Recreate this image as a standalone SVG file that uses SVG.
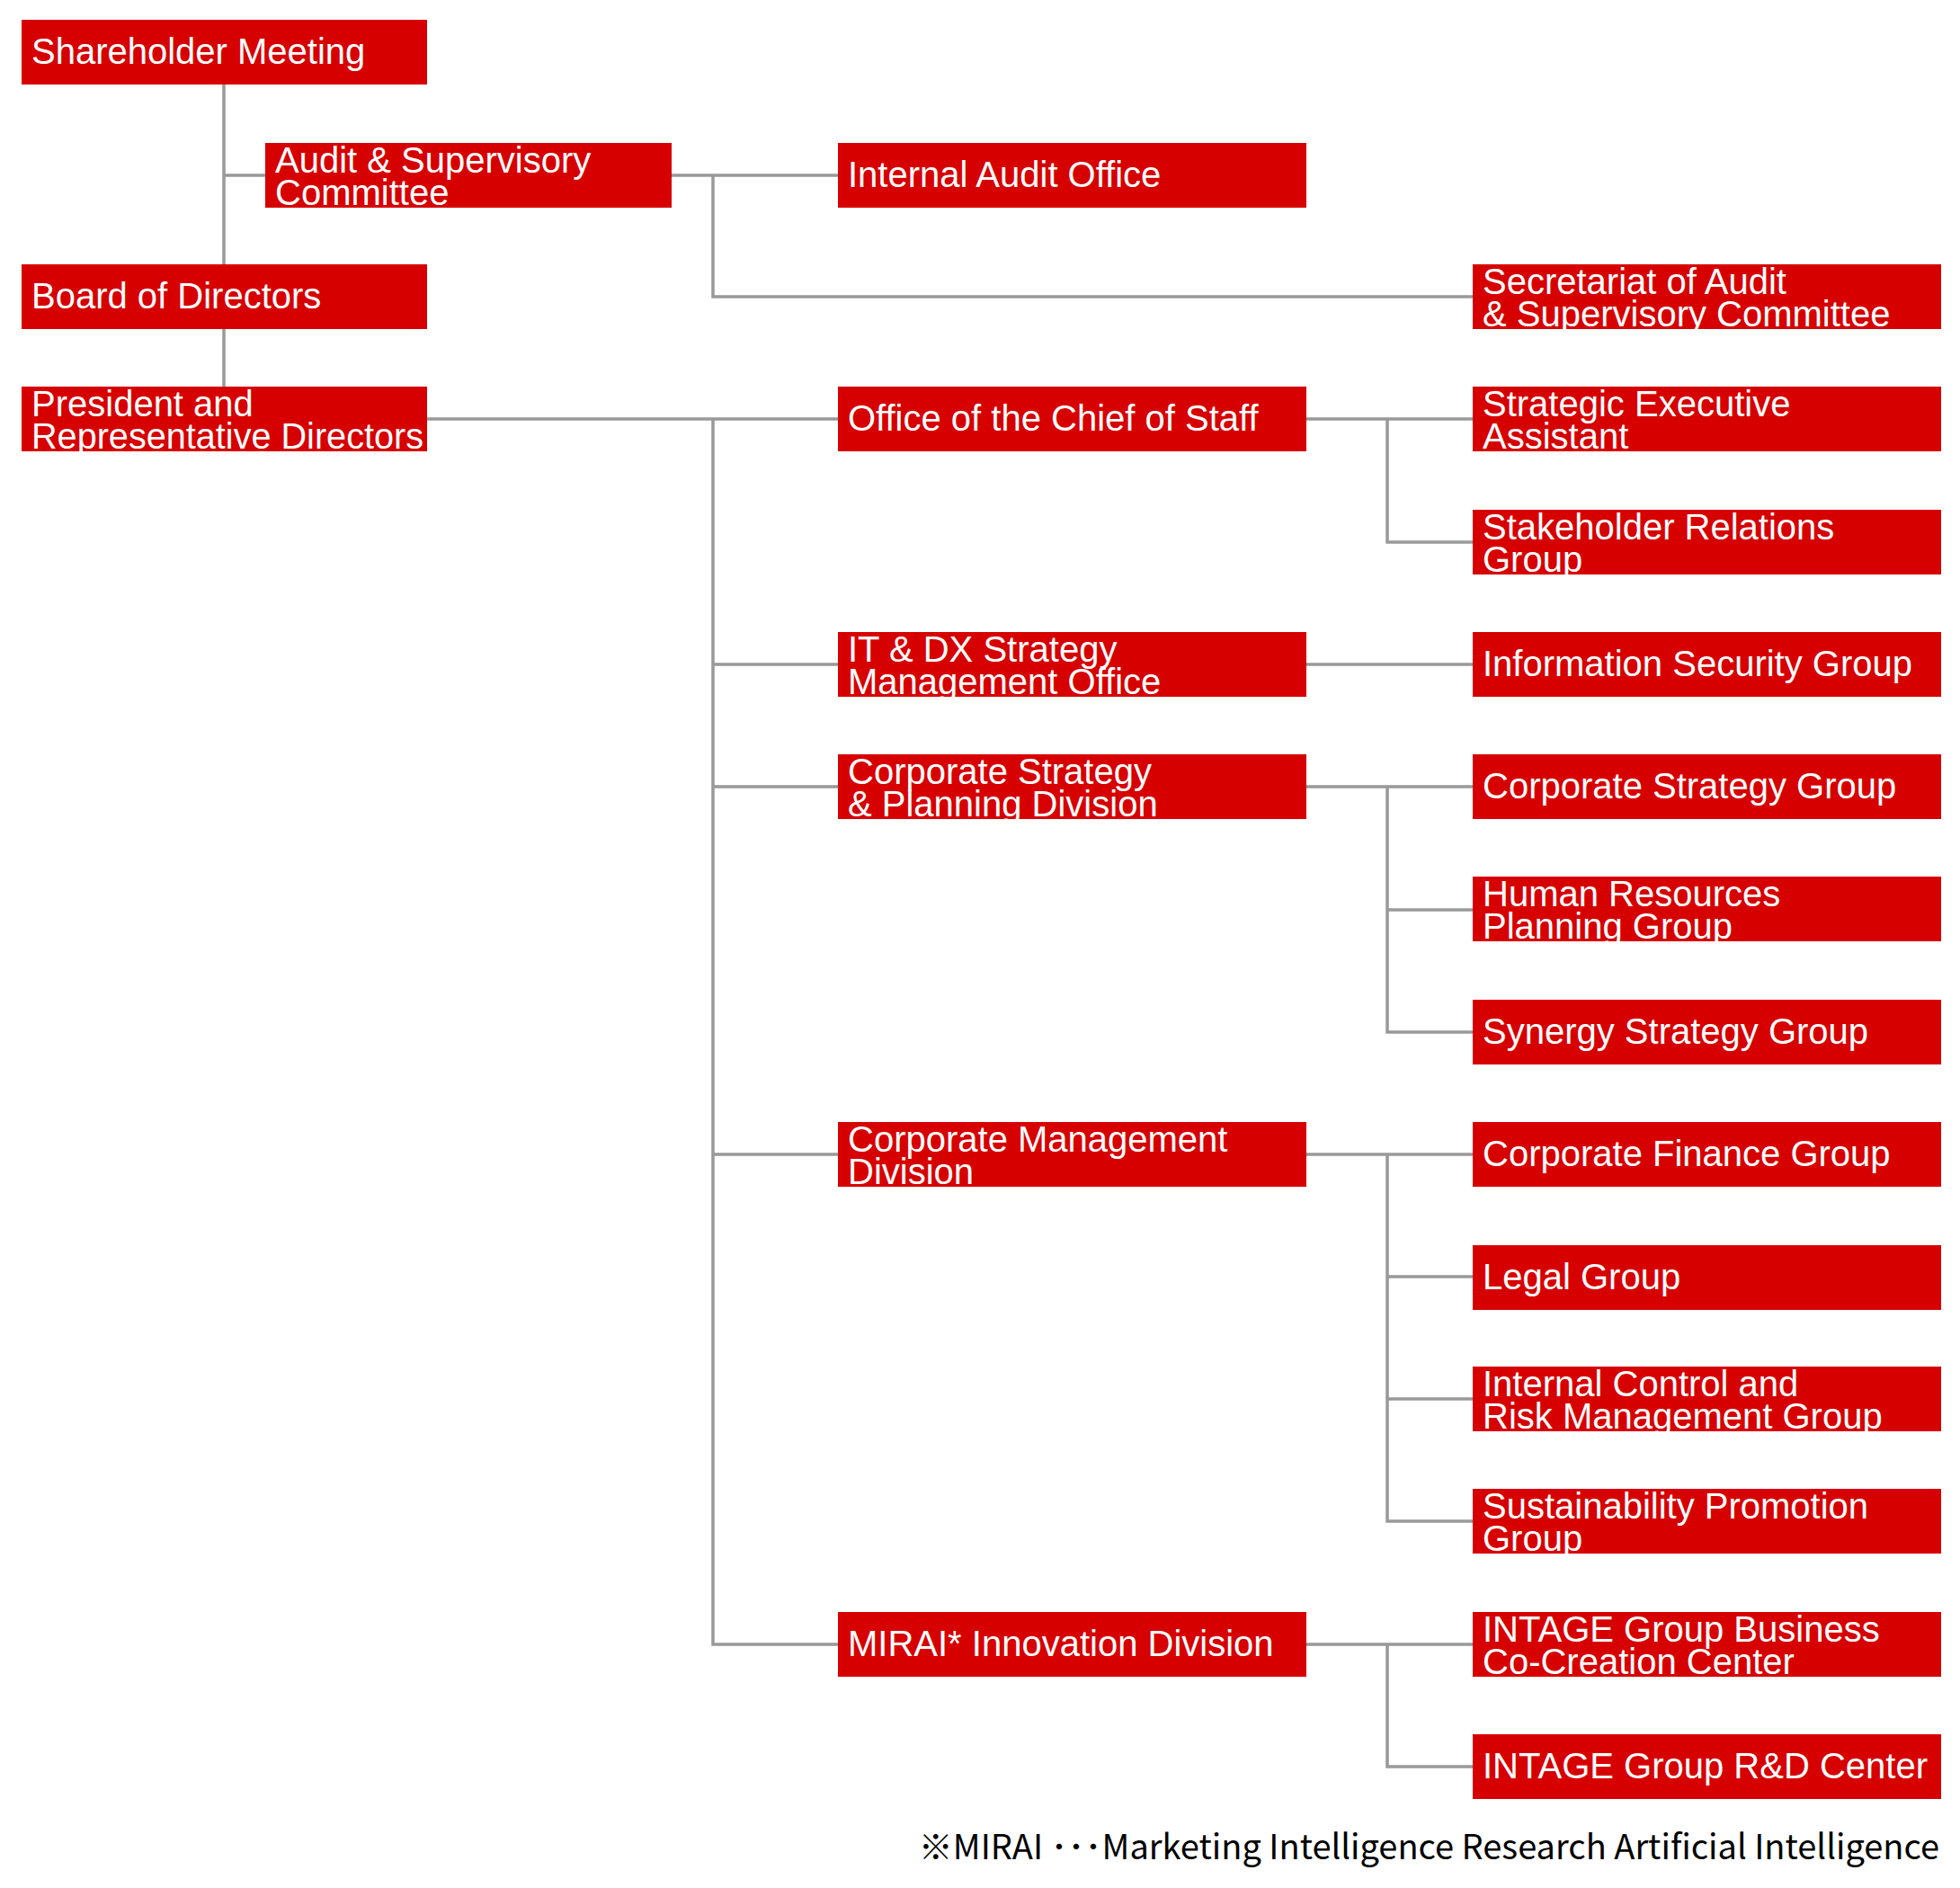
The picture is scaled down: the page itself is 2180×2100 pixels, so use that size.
<svg xmlns="http://www.w3.org/2000/svg" width="2180" height="2100" viewBox="0 0 2180 2100">
<style>
.b{fill:#d70000}
.t{fill:#fff;font-family:"Liberation Sans",Arial,sans-serif;font-size:40px}
.c{stroke:#999;stroke-width:3.5;fill:none}
.f{font-family:"Noto Sans CJK JP",sans-serif;font-size:38px;fill:#000}
</style>
<rect width="2180" height="2100" fill="#fff"/>
<g id="connectors" class="c">
<path d="M249 94V294M249 195H295M249 366V430"/>
<path d="M747 195H932M793 195V330H1638"/>
<path d="M475 466H932M793 466V1829H932M793 739H932M793 875H932M793 1284H932"/>
<path d="M1453 466H1638M1543 466V603H1638"/>
<path d="M1453 739H1638"/>
<path d="M1453 875H1638M1543 875V1148H1638M1543 1012H1638"/>
<path d="M1453 1284H1638M1543 1284V1692H1638M1543 1420H1638M1543 1556H1638"/>
<path d="M1453 1829H1638M1543 1829V1965H1638"/>
</g>
<g id="n1"><rect class="b" x="24" y="22" width="451" height="72"/><text class="t" x="35" y="71">Shareholder Meeting</text></g>
<g id="n2"><rect class="b" x="295" y="159" width="452" height="72"/><text class="t" x="306" y="192">Audit &amp; Supervisory</text><text class="t" x="306" y="228">Committee</text></g>
<g id="n3"><rect class="b" x="24" y="294" width="451" height="72"/><text class="t" x="35" y="343">Board of Directors</text></g>
<g id="n4"><rect class="b" x="24" y="430" width="451" height="72"/><text class="t" x="35" y="463">President and</text><text class="t" x="35" y="499" textLength="436" lengthAdjust="spacingAndGlyphs">Representative Directors</text></g>
<g id="n5"><rect class="b" x="932" y="159" width="521" height="72"/><text class="t" x="943" y="208">Internal Audit Office</text></g>
<g id="n6"><rect class="b" x="1638" y="294" width="521" height="72"/><text class="t" x="1649" y="327">Secretariat of Audit</text><text class="t" x="1649" y="363">&amp; Supervisory Committee</text></g>
<g id="n7"><rect class="b" x="932" y="430" width="521" height="72"/><text class="t" x="943" y="479">Office of the Chief of Staff</text></g>
<g id="n8"><rect class="b" x="1638" y="430" width="521" height="72"/><text class="t" x="1649" y="463">Strategic Executive</text><text class="t" x="1649" y="499">Assistant</text></g>
<g id="n9"><rect class="b" x="1638" y="567" width="521" height="72"/><text class="t" x="1649" y="600">Stakeholder Relations</text><text class="t" x="1649" y="636">Group</text></g>
<g id="n10"><rect class="b" x="932" y="703" width="521" height="72"/><text class="t" x="943" y="736">IT &amp; DX Strategy</text><text class="t" x="943" y="772">Management Office</text></g>
<g id="n11"><rect class="b" x="1638" y="703" width="521" height="72"/><text class="t" x="1649" y="752">Information Security Group</text></g>
<g id="n12"><rect class="b" x="932" y="839" width="521" height="72"/><text class="t" x="943" y="872">Corporate Strategy</text><text class="t" x="943" y="908">&amp; Planning Division</text></g>
<g id="n13"><rect class="b" x="1638" y="839" width="521" height="72"/><text class="t" x="1649" y="888">Corporate Strategy Group</text></g>
<g id="n14"><rect class="b" x="1638" y="975" width="521" height="72"/><text class="t" x="1649" y="1008">Human Resources</text><text class="t" x="1649" y="1044">Planning Group</text></g>
<g id="n15"><rect class="b" x="1638" y="1112" width="521" height="72"/><text class="t" x="1649" y="1161">Synergy Strategy Group</text></g>
<g id="n16"><rect class="b" x="932" y="1248" width="521" height="72"/><text class="t" x="943" y="1281">Corporate Management</text><text class="t" x="943" y="1317">Division</text></g>
<g id="n17"><rect class="b" x="1638" y="1248" width="521" height="72"/><text class="t" x="1649" y="1297">Corporate Finance Group</text></g>
<g id="n18"><rect class="b" x="1638" y="1385" width="521" height="72"/><text class="t" x="1649" y="1434">Legal Group</text></g>
<g id="n19"><rect class="b" x="1638" y="1520" width="521" height="72"/><text class="t" x="1649" y="1553">Internal Control and</text><text class="t" x="1649" y="1589">Risk Management Group</text></g>
<g id="n20"><rect class="b" x="1638" y="1656" width="521" height="72"/><text class="t" x="1649" y="1689">Sustainability Promotion</text><text class="t" x="1649" y="1725">Group</text></g>
<g id="n21"><rect class="b" x="932" y="1793" width="521" height="72"/><text class="t" x="943" y="1842">MIRAI* Innovation Division</text></g>
<g id="n22"><rect class="b" x="1638" y="1793" width="521" height="72"/><text class="t" x="1649" y="1826">INTAGE Group Business</text><text class="t" x="1649" y="1862">Co-Creation Center</text></g>
<g id="n23"><rect class="b" x="1638" y="1929" width="521" height="72"/><text class="t" x="1649" y="1978">INTAGE Group R&amp;D Center</text></g>
<text class="f" x="2157" y="2068" text-anchor="end">※MIRAI ･･･Marketing Intelligence Research Artificial Intelligence</text>
</svg>
